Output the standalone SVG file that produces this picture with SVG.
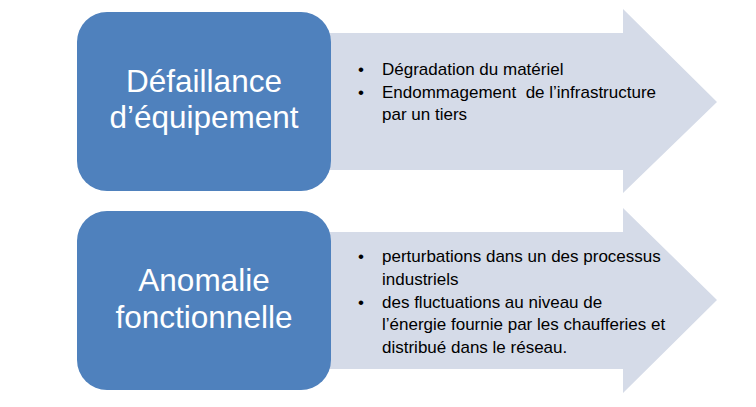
<svg xmlns="http://www.w3.org/2000/svg" width="756" height="407" viewBox="0 0 756 407">
<style>
.arrow{fill:#D5DBE8;}
.box{fill:#4F81BD;}
.title{font-family:"Liberation Sans",Arial,sans-serif;font-size:31.5px;fill:#FFFFFF;text-anchor:middle;}
.item{font-family:"Liberation Sans",Arial,sans-serif;font-size:17px;fill:#000000;}
</style>
<rect width="756" height="407" fill="#FFFFFF"/>
<g id="connectors">
<polygon id="arrow1" class="arrow" points="320,33 623,33 623,9 717,102 623,193 623,170 320,170"/>
<polygon id="arrow2" class="arrow" points="320,232 623,232 623,208 717,300 623,393 623,369 320,369"/>
</g>
<g id="node1">
<rect class="box" x="77" y="12" width="254" height="179" rx="30" ry="30"/>
<text class="title" x="204" y="92">Défaillance</text>
<text class="title" x="204" y="128">d’équipement</text>
</g>
<g id="node1-list">
<text class="item" x="358" y="75">•</text>
<text class="item" x="382" y="75">Dégradation du matériel</text>
<text class="item" x="358" y="97.5">•</text>
<text class="item" x="382" y="97.5" xml:space="preserve">Endommagement  de l’infrastructure</text>
<text class="item" x="382" y="120">par un tiers</text>
</g>
<g id="node2">
<rect class="box" x="77" y="211" width="254" height="179" rx="30" ry="30"/>
<text class="title" x="204" y="291">Anomalie</text>
<text class="title" x="204" y="328">fonctionnelle</text>
</g>
<g id="node2-list">
<text class="item" x="358" y="262">•</text>
<text class="item" x="382" y="262">perturbations dans un des processus</text>
<text class="item" x="382" y="285">industriels</text>
<text class="item" x="358" y="307.5">•</text>
<text class="item" x="382" y="307.5">des fluctuations au niveau de</text>
<text class="item" x="382" y="330">l’énergie fournie par les chaufferies et</text>
<text class="item" x="382" y="353">distribué dans le réseau.</text>
</g>
</svg>
